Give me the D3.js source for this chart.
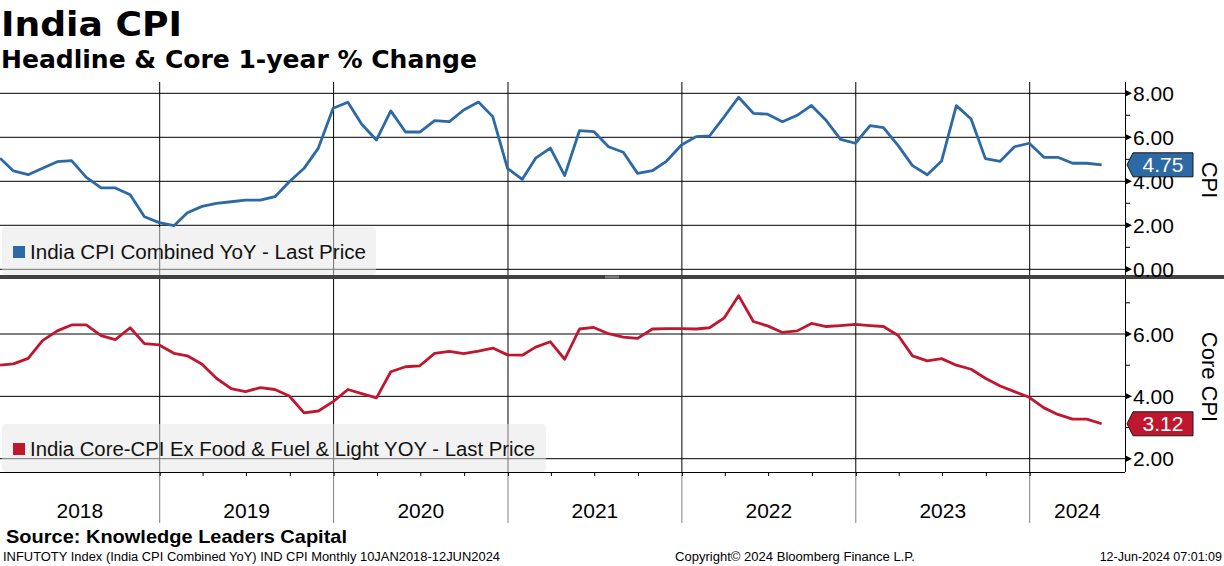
<!DOCTYPE html>
<html>
<head>
<meta charset="utf-8">
<script src="https://d3js.org/d3.v7.min.js"></script>
<style>
  body { margin: 0; background: #fff; }
  svg { display: block; }
  text { font-family: "Liberation Sans", Arial, sans-serif; }
</style>
</head>
<body>
<svg id="chart" width="1224" height="566"></svg>
<script>
// monthly readings, Jan 2018 .. May 2024 (dated at month end)
var startYear = 2018;
var cpiValues = [
  5.05, 4.47, 4.30, 4.59, 4.89, 4.94, 4.18, 3.70, 3.70, 3.39, 2.39, 2.12,
  1.98, 2.57, 2.86, 3.00, 3.07, 3.14, 3.14, 3.30, 3.98, 4.59, 5.51, 7.32,
  7.59, 6.59, 5.88, 7.20, 6.24, 6.24, 6.76, 6.71, 7.24, 7.60, 6.94, 4.59,
  4.09, 5.05, 5.51, 4.26, 6.30, 6.26, 5.57, 5.32, 4.36, 4.48, 4.92, 5.65,
  6.03, 6.06, 6.94, 7.82, 7.09, 7.05, 6.71, 7.00, 7.45, 6.76, 5.91, 5.73,
  6.53, 6.44, 5.62, 4.71, 4.30, 4.92, 7.44, 6.83, 5.03, 4.91, 5.57, 5.73,
  5.09, 5.09, 4.82, 4.82, 4.75
];
var coreValues = [
  5.00, 5.04, 5.22, 5.79, 6.10, 6.29, 6.29, 5.95, 5.82, 6.20, 5.69, 5.65,
  5.38, 5.30, 5.03, 4.58, 4.25, 4.15, 4.28, 4.22, 4.01, 3.47, 3.53, 3.83,
  4.22, 4.09, 3.95, 4.79, 4.95, 4.98, 5.38, 5.44, 5.37, 5.45, 5.55, 5.33,
  5.32, 5.58, 5.75, 5.19, 6.16, 6.21, 6.01, 5.90, 5.86, 6.16, 6.17, 6.17,
  6.16, 6.20, 6.52, 7.23, 6.40, 6.26, 6.05, 6.10, 6.34, 6.24, 6.27, 6.31,
  6.27, 6.24, 5.95, 5.30, 5.14, 5.21, 5.00, 4.87, 4.58, 4.33, 4.15, 3.97,
  3.63, 3.42, 3.27, 3.27, 3.12
];
var years = [2018, 2019, 2020, 2021, 2022, 2023, 2024];
var cpiTicks = [0, 2, 4, 6, 8];
var cpiMinor = [1, 3, 5, 7];
var coreTicks = [2, 4, 6];
var coreMinor = [3, 5, 7];

var title = 'India CPI';
var subtitle = 'Headline & Core 1-year % Change';
var cpiLegend = 'India CPI Combined YoY - Last Price';
var coreLegend = 'India Core-CPI Ex Food & Fuel & Light YOY - Last Price';

var blue = '#2c69a5', red = '#c0172f';

var svg = d3.select('#chart');
var axisX = 1125, plotTop = 82, bottomY = 472;

var x = d3.scaleTime()
  .domain([new Date(2019, 0, 1), new Date(2024, 0, 1)])
  .range([159.7, 1029.7]);
var yTop = d3.scaleLinear().domain([0, 8]).range([269.3, 93.3]);
var yBot = d3.scaleLinear().domain([2, 6]).range([458.7, 334]);

function toSeries(values) {
  return values.map(function (v, i) {
    return { date: new Date(startYear, i + 1, 0), value: v };
  });
}
var cpi = toSeries(cpiValues);
var core = toSeries(coreValues);

// titles
svg.append('text').attr('x', 1).attr('y', 36)
  .style('font-family', '"DejaVu Sans", sans-serif').style('font-weight', 'bold')
  .style('font-size', '34px').attr('textLength', 181).attr('lengthAdjust', 'spacingAndGlyphs')
  .text(title);
svg.append('text').attr('x', 1).attr('y', 68)
  .style('font-family', '"DejaVu Sans", sans-serif').style('font-weight', 'bold')
  .style('font-size', '24px').attr('textLength', 476).attr('lengthAdjust', 'spacingAndGlyphs')
  .text(subtitle);

// horizontal grid
svg.append('g').selectAll('line').data(cpiTicks).enter().append('line')
  .attr('x1', 0).attr('x2', axisX)
  .attr('y1', function (d) { return yTop(d); }).attr('y2', function (d) { return yTop(d); })
  .attr('stroke', '#000').attr('stroke-width', 1);
svg.append('g').selectAll('line').data(coreTicks).enter().append('line')
  .attr('x1', 0).attr('x2', axisX)
  .attr('y1', function (d) { return yBot(d); }).attr('y2', function (d) { return yBot(d); })
  .attr('stroke', '#000').attr('stroke-width', 1);

// vertical year grid
var yearStarts = years.slice(1).map(function (y) { return new Date(y, 0, 1); });
svg.append('g').selectAll('line').data(yearStarts).enter().append('line')
  .attr('x1', function (d) { return x(d); }).attr('x2', function (d) { return x(d); })
  .attr('y1', plotTop).attr('y2', bottomY)
  .attr('stroke', '#000').attr('stroke-width', 1);
svg.append('g').selectAll('line').data(yearStarts).enter().append('line')
  .attr('x1', function (d) { return x(d); }).attr('x2', function (d) { return x(d); })
  .attr('y1', bottomY).attr('y2', 523)
  .attr('stroke', '#808080').attr('stroke-width', 1);

// series lines
var lineTop = d3.line().x(function (d) { return x(d.date); }).y(function (d) { return yTop(d.value); });
var lineBot = d3.line().x(function (d) { return x(d.date); }).y(function (d) { return yBot(d.value); });
svg.append('path').datum(cpi).attr('d', lineTop)
  .attr('fill', 'none').attr('stroke', blue).attr('stroke-width', 2.8).attr('stroke-linejoin', 'round');
svg.append('path').datum(core).attr('d', lineBot)
  .attr('fill', 'none').attr('stroke', red).attr('stroke-width', 2.8).attr('stroke-linejoin', 'round');

// legends
function legend(y0, w, color, label, len) {
  var g = svg.append('g');
  g.append('rect').attr('x', 2).attr('y', y0).attr('width', w).attr('height', 48).attr('rx', 3)
    .attr('fill', 'rgb(229,229,229)').attr('fill-opacity', 0.5);
  g.append('rect').attr('x', 13).attr('y', y0 + 19).attr('width', 12).attr('height', 12).attr('fill', color);
  g.append('text').attr('x', 30).attr('y', y0 + 32)
    .style('font-size', '20px').attr('fill', '#111')
    .attr('textLength', len).attr('lengthAdjust', 'spacingAndGlyphs')
    .text(label);
}
legend(227, 374, blue, cpiLegend, 336);
legend(424, 544, red, coreLegend, 505);

// separator bar
svg.append('rect').attr('x', 0).attr('y', 275).attr('width', 1224).attr('height', 4).attr('fill', '#414141');
svg.append('line').attr('x1', 605).attr('x2', 619).attr('y1', 276.2).attr('y2', 276.2).attr('stroke', '#aaa').attr('stroke-width', 0.8);
svg.append('line').attr('x1', 605).attr('x2', 619).attr('y1', 277.8).attr('y2', 277.8).attr('stroke', '#aaa').attr('stroke-width', 0.8);

// bottom time axis
var xAxis = d3.axisBottom(x)
  .ticks(d3.timeMonth.every(3))
  .tickSize(4).tickSizeOuter(0).tickFormat('');
var xg = svg.append('g').attr('transform', 'translate(0,' + bottomY + ')').call(xAxis);
xg.select('.domain').attr('d', 'M0,0.5H' + axisX).attr('stroke', '#000');
xg.selectAll('.tick').filter(function (d) { return x(d) < 0 || x(d) > axisX; }).remove();
xg.selectAll('.tick line').attr('stroke', '#000');

svg.append('g').selectAll('text').data(years).enter().append('text')
  .attr('x', function (y) {
    var a = Math.max(0, x(new Date(y, 0, 1)));
    var b = Math.min(axisX, x(new Date(y + 1, 0, 1)));
    return (a + b) / 2;
  })
  .attr('y', 518).attr('text-anchor', 'middle')
  .style('font-size', '21px').attr('fill', '#000')
  .text(function (y) { return y; });

// right value axes
function rightAxis(scale, major, minor, y1, y2) {
  var g = svg.append('g');
  g.append('line').attr('x1', axisX + 0.5).attr('x2', axisX + 0.5).attr('y1', y1).attr('y2', y2).attr('stroke', '#000');
  g.selectAll('path.arrow').data(major).enter().append('path').attr('class', 'arrow')
    .attr('d', function (d) { var y = scale(d); return 'M' + axisX + ',' + (y - 3.5) + 'L' + (axisX + 7) + ',' + y + 'L' + axisX + ',' + (y + 3.5) + 'Z'; })
    .attr('fill', '#000');
  g.selectAll('line.minor').data(minor).enter().append('line').attr('class', 'minor')
    .attr('x1', axisX).attr('x2', axisX + 5)
    .attr('y1', function (d) { return scale(d); }).attr('y2', function (d) { return scale(d); })
    .attr('stroke', '#000');
  g.selectAll('text').data(major).enter().append('text')
    .attr('x', axisX + 8).attr('y', function (d) { return scale(d) + 7.5; })
    .style('font-size', '21px').attr('fill', '#000')
    .text(function (d) { return d3.format('.2f')(d); });
}
rightAxis(yTop, cpiTicks, cpiMinor, plotTop, 275);
rightAxis(yBot, coreTicks, coreMinor, 279, bottomY);

// last value badges
function badge(yv, color, value) {
  var g = svg.append('g');
  g.append('path')
    .attr('d', 'M1127,' + yv + 'L1133,' + (yv - 12) + 'H1193V' + (yv + 12) + 'H1133Z')
    .attr('fill', color).attr('stroke', '#1a1a1a').attr('stroke-width', 1);
  g.append('text').attr('x', 1163).attr('y', yv + 7.5).attr('text-anchor', 'middle')
    .style('font-size', '21px').attr('fill', '#fff').text(value);
}
var lastCpi = cpi[cpi.length - 1], lastCore = core[core.length - 1];
badge(yTop(lastCpi.value), blue, d3.format('.2f')(lastCpi.value));
badge(yBot(lastCore.value), red, d3.format('.2f')(lastCore.value));

// axis titles
svg.append('text').attr('transform', 'translate(1202,180) rotate(90)')
  .attr('text-anchor', 'middle').style('font-size', '22px').text('CPI');
svg.append('text').attr('transform', 'translate(1202,377) rotate(90)')
  .attr('text-anchor', 'middle').style('font-size', '22px').text('Core CPI');

// footer
svg.append('text').attr('x', 6).attr('y', 543)
  .style('font-weight', 'bold').style('font-size', '19px')
  .attr('textLength', 341).attr('lengthAdjust', 'spacingAndGlyphs')
  .text('Source: Knowledge Leaders Capital');
svg.append('text').attr('x', 3).attr('y', 561).style('font-size', '12.5px')
  .attr('textLength', 497).attr('lengthAdjust', 'spacingAndGlyphs')
  .text('INFUTOTY Index (India CPI Combined YoY) IND CPI  Monthly 10JAN2018-12JUN2024');
svg.append('text').attr('x', 675).attr('y', 561).style('font-size', '12.5px')
  .attr('textLength', 240).attr('lengthAdjust', 'spacingAndGlyphs')
  .text('Copyright\u00A9 2024 Bloomberg Finance L.P.');
svg.append('text').attr('x', 1222).attr('y', 561).attr('text-anchor', 'end').style('font-size', '12.5px')
  .text('12-Jun-2024 07:01:09');
</script>
</body>
</html>
